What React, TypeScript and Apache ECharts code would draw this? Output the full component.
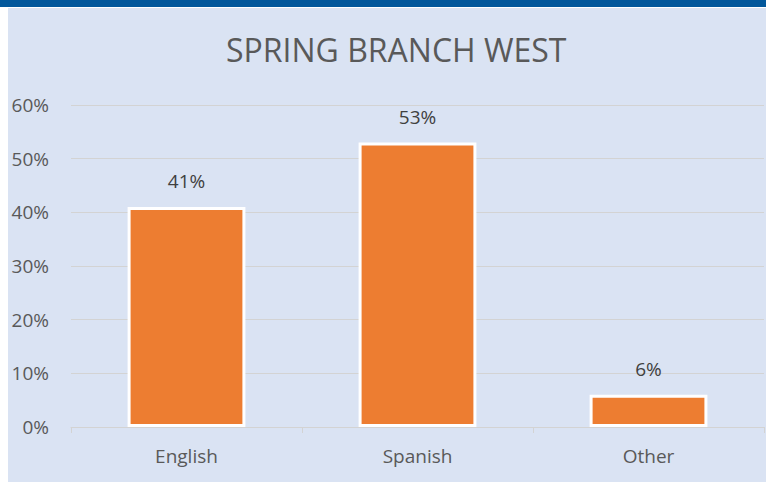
import React, { useEffect, useRef } from "react";
import * as echarts from "echarts";

const categories = ["English", "Spanish", "Other"];
const values = [41, 53, 6];
const yTicks = [0, 10, 20, 30, 40, 50, 60];
const title = "SPRING BRANCH WEST";

export default function App() {
  const ref = useRef<HTMLDivElement>(null);
  useEffect(() => {
    document.body.style.margin = "0";
    const chart = echarts.init(ref.current!, null, { renderer: "svg" });
    const font = "'Open Sans', sans-serif";
    chart.setOption({
      animation: false,
      backgroundColor: "#dae3f3",
      textStyle: { fontFamily: font },
      title: {
        text: title,
        left: 221,
        top: 28,
        textStyle: { fontSize: 32, fontWeight: "normal", color: "#595959", fontFamily: font },
      },
      graphic: [
        { type: "rect", left: 0, top: 0, shape: { width: 8, height: 482 }, style: { fill: "#ffffff" } },
        { type: "rect", left: 0, top: 0, shape: { width: 766, height: 8 }, style: { fill: "#ffffff" } },
        { type: "rect", left: 0, top: 0, shape: { width: 766, height: 7 }, style: { fill: "#01579b" } },
      ],
      grid: { left: 71, right: 2, top: 105, bottom: 55, containLabel: false },
      xAxis: {
        type: "category",
        data: categories,
        axisLine: { show: true, lineStyle: { color: "#d3d3d3", width: 1 } },
        axisTick: { show: true, length: 6, lineStyle: { color: "#d3d3d3" } },
        axisLabel: { color: "#595959", fontSize: 19, margin: 19, fontFamily: font },
      },
      yAxis: {
        type: "value",
        min: yTicks[0],
        max: yTicks[yTicks.length - 1],
        interval: 10,
        axisLine: { show: false },
        axisTick: { show: false },
        splitLine: { lineStyle: { color: "#d3d3d3", width: 1 } },
        axisLabel: { color: "#595959", fontSize: 19, margin: 22, formatter: "{value}%", fontFamily: font },
      },
      series: [
        {
          type: "bar",
          data: values,
          barWidth: "51%",
          itemStyle: { color: "#ed7d31", borderColor: "#ffffff", borderWidth: 3 },
          label: {
            show: true,
            position: "top",
            distance: 16,
            formatter: "{c}%",
            color: "#404040",
            fontSize: 19,
            fontFamily: font,
          },
        },
      ],
    });
    return () => chart.dispose();
  }, []);
  return <div ref={ref} style={{ width: 766, height: 482 }} />;
}
